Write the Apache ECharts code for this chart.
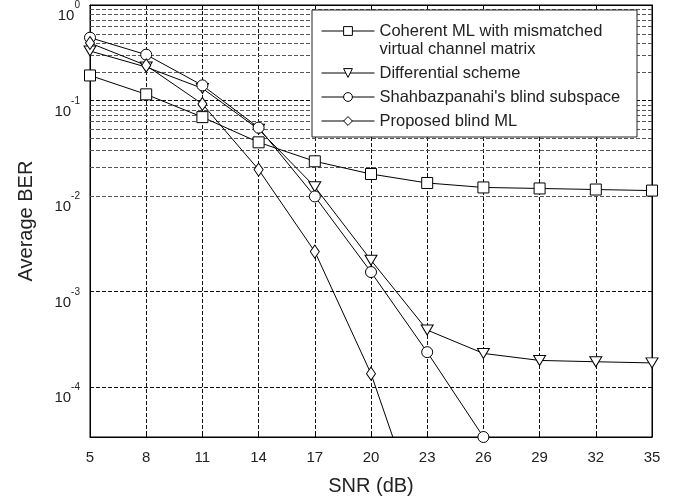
<!DOCTYPE html>
<html>
<head>
<meta charset="utf-8">
<script src="https://cdn.jsdelivr.net/npm/echarts@6/dist/echarts.min.js"></script>
<style>
  html, body { margin: 0; padding: 0; background: #fff; }
  #chart { width: 685px; height: 499px; }
</style>
</head>
<body>
<div id="chart"></div>
<script>
// SNR points on the x axis (dB)
const snr = ['5', '8', '11', '14', '17', '20', '23', '26', '29', '32', '35'];

// Average BER per scheme
const coherentML = [0.183, 0.116, 0.067, 0.0365, 0.0231, 0.017, 0.0137, 0.0123, 0.012, 0.0117, 0.0114];
const differential = [0.33, 0.224, 0.134, 0.05, 0.0125, 0.00213, 3.95e-4, 2.25e-4, 1.9e-4, 1.84e-4, 1.79e-4];
const shahbazpanahi = [0.455, 0.302, 0.144, 0.052, 0.0099, 0.0016, 2.32e-4, 3e-5];
const proposedML = [0.40, 0.233, 0.092, 0.0189, 0.00262, 1.38e-4, 2.7e-6];

// log axis range and the minor grid (2..9 in every decade)
const yMin = 3e-5;
const yMax = 1;
const minorSteps = [2, 3, 4, 5, 6, 7, 8, 9];
const decades = [-5, -4, -3, -2, -1];

const font = 'Liberation Sans, Arial, Helvetica, sans-serif';
const dash = [4, 2];

const minorLines = [];
decades.forEach((d) => {
  minorSteps.forEach((m) => {
    const v = m * Math.pow(10, d);
    if (v > yMin && v < yMax) minorLines.push({ yAxis: v });
  });
});

const chartInstance = echarts.init(document.getElementById('chart'));

function makeSeries(name, data, symbol, size, rotate) {
  return {
    name: name,
    type: 'line',
    data: data,
    symbol: symbol,
    symbolSize: size,
    symbolRotate: rotate || 0,
    showAllSymbol: true,
    lineStyle: { color: '#000', width: 1 },
    itemStyle: { color: '#fff', borderColor: '#000', borderWidth: 1 },
    emphasis: { disabled: true },
    z: 5
  };
}

const series = [
  makeSeries('Coherent ML with mismatched\nvirtual channel matrix', coherentML, 'rect', 11),
  makeSeries('Differential scheme', differential, 'triangle', [12, 10], 180),
  makeSeries("Shahbazpanahi's blind subspace", shahbazpanahi, 'circle', 11),
  makeSeries('Proposed blind ML', proposedML, 'diamond', [9, 13])
];

// minor log grid lines hang on the first series
series[0].markLine = {
  silent: true,
  symbol: 'none',
  label: { show: false },
  lineStyle: { type: dash, color: '#555', width: 1 },
  data: minorLines,
  z: 1
};

function logLabel(value) {
  const e = Math.log10(value);
  const r = Math.round(e);
  if (Math.abs(e - r) > 1e-6) return '';
  return '{s|' + r + '}';
}

const options = {
  animation: false,
  grid: {
    left: 90,
    right: 33,
    top: 5,
    bottom: 62,
    outerBoundsMode: 'none',
    show: true,
    borderColor: '#000',
    borderWidth: 1
  },
  legend: {
    orient: 'vertical',
    left: 321,
    top: 4,
    padding: 0,
    itemGap: 6,
    itemWidth: 53,
    itemHeight: 11,
    selectedMode: false,
    itemStyle: { color: '#fff', borderColor: '#000', borderWidth: 1 },
    lineStyle: { color: '#000', width: 1 },
    textStyle: { fontFamily: font, fontSize: 16.5, color: '#222', lineHeight: 18 },
    formatter: (name) => name.indexOf('Coherent') === 0 ? '\n' + name : name,
    data: series.map((s) => s.name),
    z: 10
  },
  graphic: [
    {
      type: 'rect',
      shape: { x: 312, y: 10, width: 325, height: 127 },
      style: { fill: '#fff', stroke: '#222', lineWidth: 1 },
      z: 8,
      silent: true
    }
  ],
  xAxis: [
    {
      type: 'category',
      data: snr,
      boundaryGap: false,
      name: 'SNR (dB)',
      nameLocation: 'middle',
      nameGap: 39,
      nameTextStyle: { fontFamily: font, fontSize: 20, color: '#222' },
      axisLine: { lineStyle: { color: '#000' } },
      axisTick: { inside: true, length: 5, lineStyle: { color: '#000' } },
      axisLabel: { fontFamily: font, fontSize: 15, color: '#222', margin: 13 },
      splitLine: { show: true, lineStyle: { type: dash, color: '#111' } }
    },
    {
      type: 'category',
      data: snr,
      boundaryGap: false,
      position: 'top',
      axisLine: { lineStyle: { color: '#000' } },
      axisTick: { inside: true, length: 5, lineStyle: { color: '#000' } },
      axisLabel: { show: false },
      splitLine: { show: false }
    }
  ],
  yAxis: [
    {
      type: 'log',
      logBase: 10,
      min: yMin,
      max: yMax,
      name: 'Average BER',
      nameLocation: 'middle',
      nameGap: 54,
      nameTextStyle: { fontFamily: font, fontSize: 20, color: '#222' },
      axisLine: { show: true, lineStyle: { color: '#000' } },
      axisTick: { inside: true, length: 5, lineStyle: { color: '#000' } },
      axisLabel: {
        fontFamily: font,
        color: '#222',
        margin: 10,
        padding: [20, 0, 0, 0],
        formatter: (v) => {
          const t = logLabel(v);
          return t ? '{b|10}' + t : '';
        },
        rich: {
          b: { fontFamily: font, fontSize: 15, color: '#222', lineHeight: 17, padding: [23, 0, 0, 0], verticalAlign: 'bottom' },
          s: { fontFamily: font, fontSize: 10, color: '#222', lineHeight: 12, padding: [0, 0, 13, 0], verticalAlign: 'bottom' }
        }
      },
      splitLine: { show: true, lineStyle: { type: dash, color: '#111' } }
    },
    {
      type: 'log',
      logBase: 10,
      min: yMin,
      max: yMax,
      position: 'right',
      axisLine: { show: true, lineStyle: { color: '#000' } },
      axisTick: { inside: true, length: 5, lineStyle: { color: '#000' } },
      axisLabel: { show: false },
      splitLine: { show: false }
    }
  ],
  series: series
};

chartInstance.setOption(options);

window.addEventListener('resize', () => {
  chartInstance.resize();
});
</script>
</body>
</html>
